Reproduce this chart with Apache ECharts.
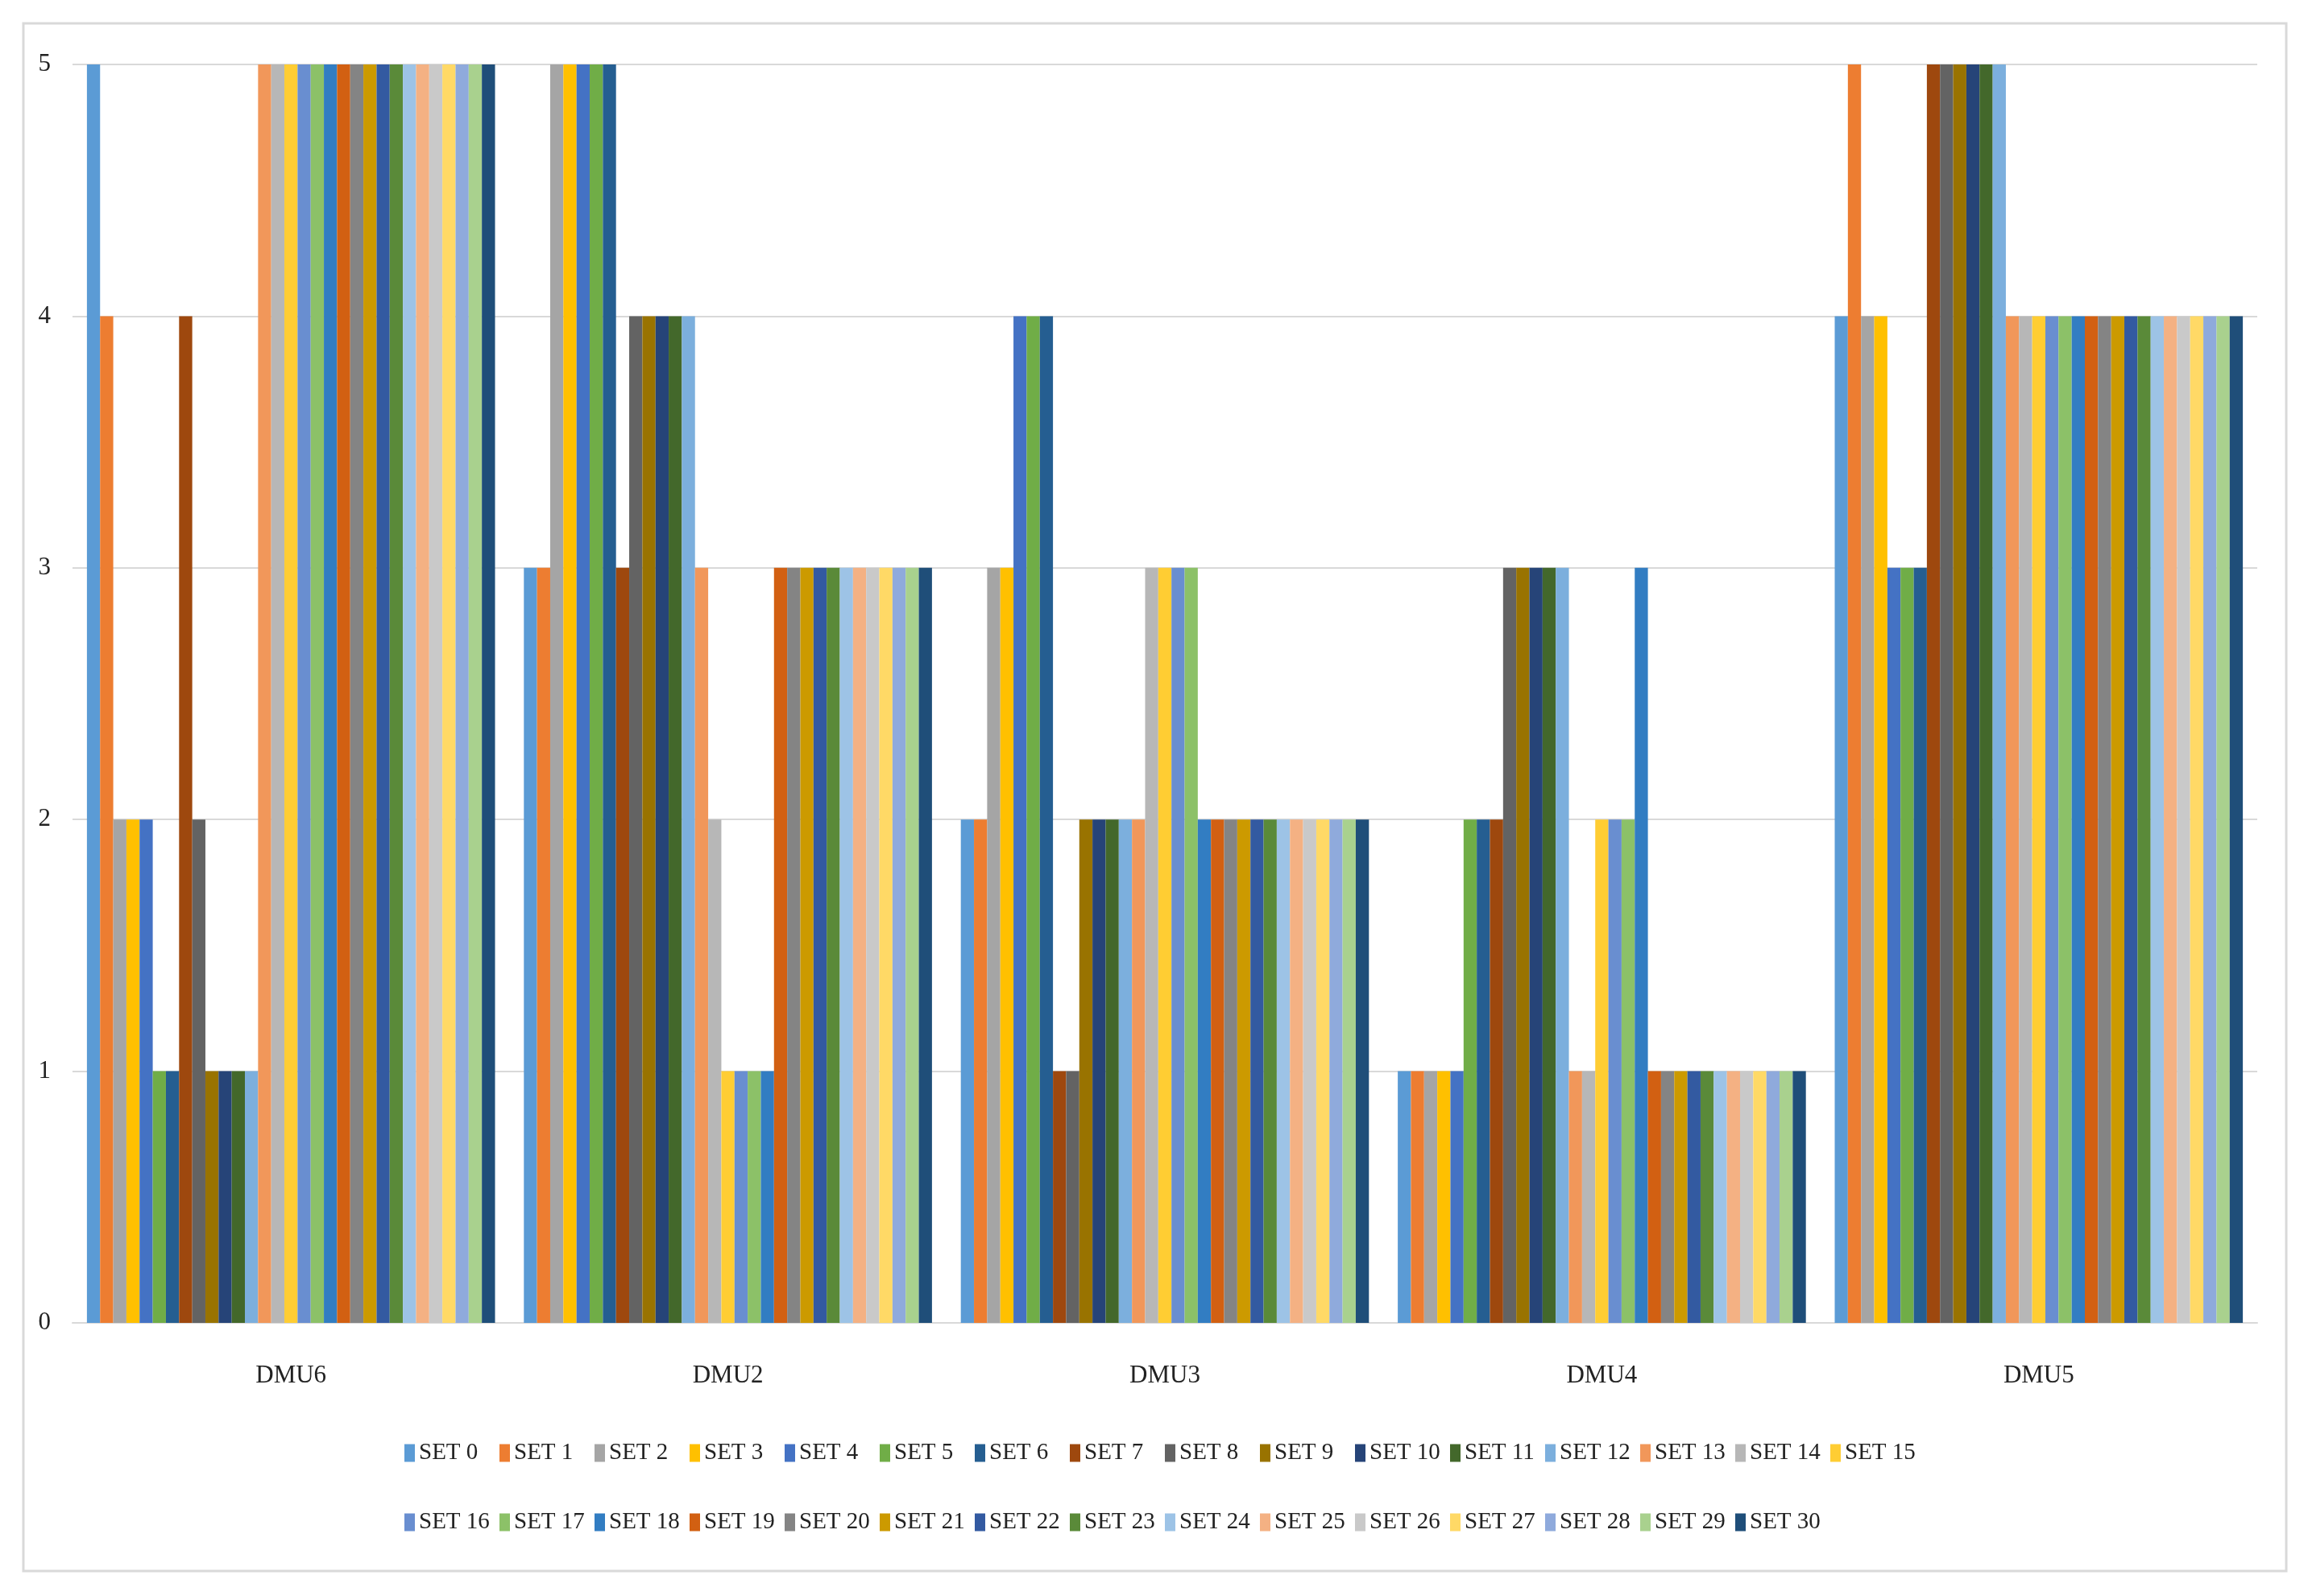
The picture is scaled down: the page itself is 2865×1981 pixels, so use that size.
<!DOCTYPE html>
<html>
<head>
<meta charset="utf-8">
<script src="https://cdn.jsdelivr.net/npm/echarts@6/dist/echarts.min.js"></script>
<style>html,body{margin:0;padding:0;background:#fff}#c{width:2865px;height:1981px}</style>
</head>
<body>
<div id="c"></div>
<script>
const categories = ['DMU6', 'DMU2', 'DMU3', 'DMU4', 'DMU5'];
const seriesNames = Array.from({length: 31}, (_, i) => 'SET ' + i);
// values of SET 0..SET 30 for each DMU
const dmu6 = [5,4,2,2,2,1,1,4,2,1,1,1,1,5,5,5,5,5,5,5,5,5,5,5,5,5,5,5,5,5,5];
const dmu2 = [3,3,5,5,5,5,5,3,4,4,4,4,4,3,2,1,1,1,1,3,3,3,3,3,3,3,3,3,3,3,3];
const dmu3 = [2,2,3,3,4,4,4,1,1,2,2,2,2,2,3,3,3,3,2,2,2,2,2,2,2,2,2,2,2,2,2];
const dmu4 = [1,1,1,1,1,2,2,2,3,3,3,3,3,1,1,2,2,2,3,1,1,1,1,1,1,1,1,1,1,1,1];
const dmu5 = [4,5,4,4,3,3,3,5,5,5,5,5,5,4,4,4,4,4,4,4,4,4,4,4,4,4,4,4,4,4,4];
const yTicks = [0, 1, 2, 3, 4, 5];

const colors = ['#5B9BD5','#ED7D31','#A5A5A5','#FFC000','#4472C4','#70AD47',
  '#255E91','#9E480E','#636363','#997300','#264478','#43682B',
  '#7CAFDD','#F1975A','#B7B7B7','#FFCD33','#698ED0','#8CC168',
  '#327DC2','#D26012','#848484','#CC9A00','#335AA1','#5A8A39',
  '#9DC3E6','#F4B183','#C9C9C9','#FFD966','#8FAADC','#A9D18E','#1F4E79'];

const byCategory = [dmu6, dmu2, dmu3, dmu4, dmu5];
const series = seriesNames.map((name, i) => ({
  name: name,
  type: 'bar',
  barGap: '0%',
  barCategoryGap: '6.6%',
  data: byCategory.map(arr => arr[i]),
  itemStyle: {color: colors[i]}
}));

const font = 'Liberation Serif';
// one legend per entry, placed in fixed-width slots like the original (16 per row)
const perRow = 16, slot = 118, legendLeft = 502, rowTops = [1789, 1875];
const legends = seriesNames.map((name, i) => ({
  left: legendLeft + (i % perRow) * slot,
  top: rowTops[Math.floor(i / perRow)],
  orient: 'horizontal',
  icon: 'rect',
  itemWidth: 13,
  itemHeight: 22,
  padding: 0,
  data: [name],
  textStyle: {fontFamily: font, fontSize: 29, color: '#222'}
}));

const chart = echarts.init(document.getElementById('c'));
chart.setOption({
  animation: false,
  color: colors,
  backgroundColor: '#fff',
  graphic: [{
    type: 'rect',
    shape: {x: 29, y: 29, width: 2809, height: 1921},
    style: {fill: 'none', stroke: '#d9d9d9', lineWidth: 3},
    silent: true
  }],
  grid: {left: 90, right: 63, top: 80, bottom: 339, containLabel: false},
  legend: legends,
  xAxis: {
    type: 'category',
    data: categories,
    axisLine: {show: true, lineStyle: {color: '#d9d9d9', width: 2}},
    axisTick: {show: false},
    axisLabel: {fontFamily: font, fontSize: 31, color: '#222', margin: 50}
  },
  yAxis: {
    type: 'value',
    min: yTicks[0],
    max: yTicks[yTicks.length - 1],
    interval: 1,
    axisLine: {show: false},
    axisTick: {show: false},
    splitLine: {lineStyle: {color: '#d9d9d9', width: 2}},
    axisLabel: {fontFamily: font, fontSize: 31, color: '#222', margin: 27}
  },
  series: series
});
</script>
</body>
</html>
